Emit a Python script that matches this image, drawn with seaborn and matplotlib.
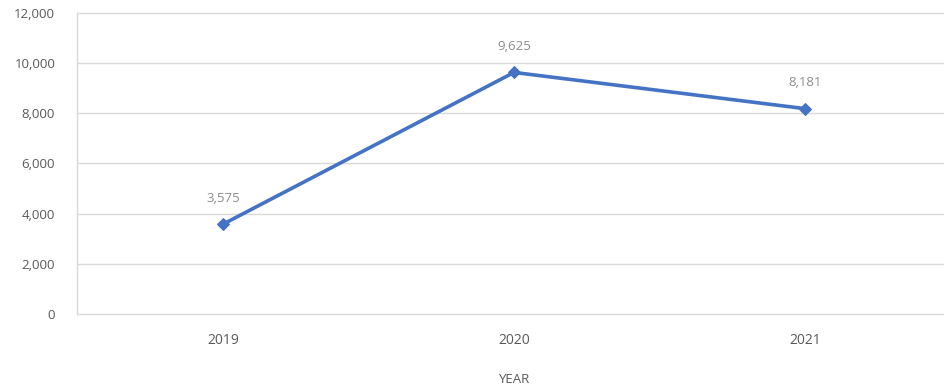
import matplotlib
matplotlib.use("Agg")
import matplotlib.pyplot as plt
import seaborn as sns
import pandas as pd

years = ["2019", "2020", "2021"]
values = [3575, 9625, 8181]
y_ticks = [0, 2000, 4000, 6000, 8000, 10000, 12000]

sns.set_style("white")
plt.rcParams["font.family"] = ["Open Sans", "DejaVu Sans"]

df = pd.DataFrame({"year": years, "value": values})

fig = plt.figure(figsize=(9.44, 3.89), dpi=100)
ax = fig.add_axes([0.082, 0.193, 0.925, 0.774])

sns.lineplot(data=df, x="year", y="value", ax=ax, color="#4472C4",
             linewidth=2.6, marker="D", markersize=6.5,
             markeredgecolor="#4472C4", sort=False)

ax.set_xlim(-0.5, 2.5)
ax.set_ylim(0, 12000)
ax.set_yticks(y_ticks)
ax.set_yticklabels([f"{v:,}" for v in y_ticks])
ax.yaxis.grid(True, color="#D9D9D9", linewidth=1.0)
for gl in ax.get_ygridlines():
    gl.set_clip_on(False)
ax.set_axisbelow(True)
for side in ["top", "right", "bottom"]:
    ax.spines[side].set_visible(False)
ax.spines["left"].set_color("#D9D9D9")
ax.spines["left"].set_linewidth(1.0)
ax.tick_params(axis="both", length=0, colors="#595959", labelsize=9.5)
ax.tick_params(axis="x", pad=14, labelsize=10)
ax.tick_params(axis="y", pad=16)

for i, v in enumerate(values):
    ax.annotate(f"{v:,}", (i, v), xytext=(0, 14), textcoords="offset points",
                ha="center", va="bottom", color="#8C8C8C", fontsize=9.5)

ax.set_xlabel("YEAR", color="#595959", fontsize=9.5, labelpad=18)
ax.set_ylabel("")

fig.savefig("out.png", dpi=100)
